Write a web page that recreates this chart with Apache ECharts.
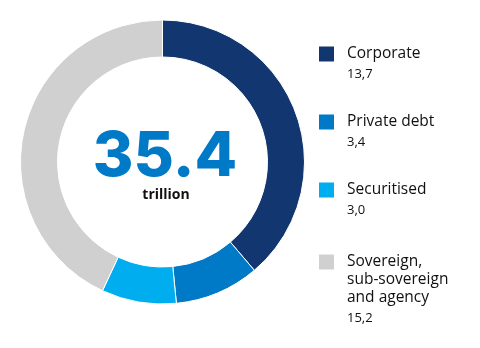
<!DOCTYPE html>
<html>
<head>
<meta charset="utf-8">
<style>
  html, body { margin: 0; padding: 0; background: #ffffff; }
  #chart { width: 480px; height: 348px; }
</style>
<script src="https://cdn.jsdelivr.net/npm/echarts@6/dist/echarts.min.js"></script>
</head>
<body>
<div id="chart"></div>
<script>
// Outstanding bonds by segment, in trillions
const categories = ['Corporate', 'Private debt', 'Securitised', 'Sovereign, sub-sovereign and agency'];
const legendLines = [['Corporate'], ['Private debt'], ['Securitised'], ['Sovereign,', 'sub-sovereign', 'and agency']];
const values = [13.7, 3.4, 3.0, 15.2];
const valueLabels = ['13,7', '3,4', '3,0', '15,2'];
const colors = ['#12366f', '#0079c6', '#00aeef', '#d0d0d0'];
const totalLabel = '35.4';
const unitLabel = 'trillion';

const chart = echarts.init(document.getElementById('chart'), null, { renderer: 'canvas' });

// Legend block on the right: square swatch, name line(s), value below
const legendTop = [54, 122, 190, 262];
const lineH = 18;
const legendGraphics = [];
categories.forEach((c, i) => {
  const y = legendTop[i];
  legendGraphics.push({
    type: 'rect',
    shape: { x: 319, y: y - 7.5, width: 15, height: 15 },
    style: { fill: colors[i] }
  });
  legendLines[i].forEach((line, j) => {
    legendGraphics.push({
      type: 'text',
      x: 347, y: y + j * lineH,
      style: {
        text: line, fill: '#111111',
        font: '500 15.5px "Open Sans", sans-serif',
        textVerticalAlign: 'middle', textAlign: 'left'
      }
    });
  });
  legendGraphics.push({
    type: 'text',
    x: 347, y: y + legendLines[i].length * lineH + 2,
    style: {
      text: valueLabels[i], fill: '#111111',
      font: '13px "Open Sans", sans-serif',
      textVerticalAlign: 'middle', textAlign: 'left'
    }
  });
});

chart.setOption({
  animation: false,
  color: colors,
  series: [{
    type: 'pie',
    center: [162.5, 162],
    radius: [105, 142],
    startAngle: 90,
    clockwise: true,
    label: { show: false },
    labelLine: { show: false },
    itemStyle: { borderColor: '#ffffff', borderWidth: 1 },
    emphasis: { disabled: true },
    data: categories.map((c, i) => ({ name: c, value: values[i] }))
  }],
  graphic: [
    {
      type: 'text',
      x: 165, y: 157,
      style: {
        text: totalLabel, fill: '#0079c6',
        font: '800 62px Inter, sans-serif',
        textAlign: 'center', textVerticalAlign: 'middle'
      }
    },
    {
      type: 'text',
      x: 166, y: 195,
      style: {
        text: unitLabel, fill: '#111111',
        font: 'bold 14px "Open Sans", sans-serif',
        textAlign: 'center', textVerticalAlign: 'middle'
      }
    }
  ].concat(legendGraphics)
});
</script>
</body>
</html>
